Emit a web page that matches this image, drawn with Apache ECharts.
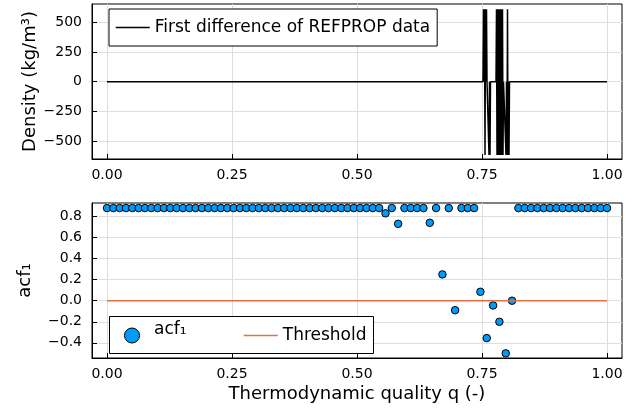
<!DOCTYPE html>
<html><head><meta charset="utf-8">
<script src="https://cdn.jsdelivr.net/npm/echarts@6/dist/echarts.min.js"></script>
<style>html,body{margin:0;padding:0;background:#fff}#c{width:632px;height:408px}</style>
</head><body><div id="c"></div>
<script>
// ---- data ----
const xTicks = [0, 0.25, 0.5, 0.75, 1];
const densTicks = [-500, -250, 0, 250, 500];
const acfTicks = [-0.4, -0.2, 0, 0.2, 0.4, 0.6, 0.8];

// first difference of REFPROP density (kg/m^3) vs quality
const diffQ = [0, 0.752, 0.753, 0.754, 0.755, 0.756, 0.757, 0.758, 0.759, 0.760,
  0.763, 0.764, 0.765, 0.766, 0.767,
  0.778, 0.779, 0.780, 0.781, 0.782, 0.783, 0.784, 0.785, 0.786, 0.787, 0.788, 0.789, 0.790, 0.791, 0.792, 0.793,
  0.797, 0.798, 0.799, 0.800, 0.801, 0.802, 0.803, 0.804, 0.805, 1];
const diffVal = [0, 0, 611, 0, 611, -619, 611, 0, 611, 0,
  0, -619, 0, -619, 0,
  0, 611, -619, 611, -619, 611, -619, 611, -619, 611, -619, 611, -619, 611, -619, 0,
  0, -619, 0, -619, 611, -619, 0, -619, 0, 0];

// lag-1 autocorrelation vs quality
const acfQ = [0, 0.0127, 0.0253, 0.038, 0.0506, 0.0633, 0.0759, 0.0886, 0.1013, 0.1139,
  0.1266, 0.1392, 0.1519, 0.1646, 0.1772, 0.1899, 0.2025, 0.2152, 0.2278, 0.2405,
  0.2532, 0.2658, 0.2785, 0.2911, 0.3038, 0.3165, 0.3291, 0.3418, 0.3544, 0.3671,
  0.3797, 0.3924, 0.4051, 0.4177, 0.4304, 0.443, 0.4557, 0.4684, 0.481, 0.4937,
  0.5063, 0.519, 0.5316, 0.5443, 0.557, 0.5696, 0.5823, 0.5949, 0.6076, 0.6203,
  0.6329, 0.6456, 0.6582, 0.6709, 0.6835, 0.6962, 0.7089, 0.7215, 0.7342, 0.7468,
  0.7595, 0.7722, 0.7848, 0.7975, 0.8101, 0.8228, 0.8354, 0.8481, 0.8608, 0.8734,
  0.8861, 0.8987, 0.9114, 0.9241, 0.9367, 0.9494, 0.962, 0.9747, 0.9873, 1.0];
const acfVal = [0.88, 0.88, 0.88, 0.88, 0.88, 0.88, 0.88, 0.88, 0.88, 0.88,
  0.88, 0.88, 0.88, 0.88, 0.88, 0.88, 0.88, 0.88, 0.88, 0.88,
  0.88, 0.88, 0.88, 0.88, 0.88, 0.88, 0.88, 0.88, 0.88, 0.88,
  0.88, 0.88, 0.88, 0.88, 0.88, 0.88, 0.88, 0.88, 0.88, 0.88,
  0.88, 0.88, 0.88, 0.88, 0.83, 0.88, 0.73, 0.88, 0.88, 0.88,
  0.88, 0.74, 0.88, 0.25, 0.88, -0.09, 0.88, 0.88, 0.88, 0.085,
  -0.355, -0.045, -0.20, -0.50, 0.0, 0.88, 0.88, 0.88, 0.88, 0.88,
  0.88, 0.88, 0.88, 0.88, 0.88, 0.88, 0.88, 0.88, 0.88, 0.88];

const thrQ = [0, 1];
const thrVal = [0, 0];

// ---- chart ----
const FONT = 'DejaVu Sans';
const BLUE = '#009AFA', ORANGE = '#E26F46';
const minus = s => String(s).replace('-', '\u2212');
const gridLine = {show: true, lineStyle: {color: '#dedede', width: 1}};

function xAxis(gi, withName) {
  return {
    type: 'value', gridIndex: gi, min: -0.03, max: 1.03,
    axisLine: {show: true, onZero: false, lineStyle: {color: '#000', width: 1}},
    axisTick: {show: true, inside: true, length: 5, customValues: xTicks, lineStyle: {color: '#000'}},
    axisLabel: {customValues: xTicks, formatter: v => v.toFixed(2), margin: 9,
      color: '#000', fontFamily: FONT, fontSize: 14},
    splitLine: gridLine,
    name: withName ? 'Thermodynamic quality q (-)' : '',
    nameLocation: 'middle', nameGap: 27, nameMoveOverlap: false,
    nameTextStyle: {color: '#000', fontFamily: FONT, fontSize: 18}
  };
}
function yAxis(gi, min, max, ticks, fmt, name, gap) {
  return {
    type: 'value', gridIndex: gi, min: min, max: max,
    axisLine: {show: true, onZero: false, lineStyle: {color: '#000', width: 1}},
    axisTick: {show: true, inside: true, length: 5, customValues: ticks, lineStyle: {color: '#000'}},
    axisLabel: {customValues: ticks, formatter: v => minus(fmt(v)), margin: 10,
      color: '#000', fontFamily: FONT, fontSize: 14},
    splitLine: gridLine,
    name: name, nameLocation: 'middle', nameRotate: 90, nameGap: gap, nameMoveOverlap: false,
    nameTextStyle: {color: '#000', fontFamily: FONT, fontSize: 18}
  };
}

const txt = {color: '#000', fontFamily: FONT, fontSize: 17};

const chart = echarts.init(document.getElementById('c'), null, {renderer: 'canvas'});
chart.setOption({
  animation: false,
  backgroundColor: '#fff',
  grid: [
    {left: 92, top: 4, width: 530, height: 155, show: true, borderColor: '#000', borderWidth: 1, backgroundColor: '#fff'},
    {left: 92, top: 203, width: 530, height: 155, show: true, borderColor: '#000', borderWidth: 1, backgroundColor: '#fff'}
  ],
  xAxis: [xAxis(0, false), xAxis(1, true)],
  yAxis: [
    yAxis(0, -653, 656, densTicks, v => String(Math.round(v)), 'Density (kg/m\u00B3)', 53),
    yAxis(1, -0.544, 0.928, acfTicks, v => v.toFixed(1), 'acf\u2081', 58)
  ],
  graphic: [{
    type: 'rect', z: 10, silent: true,
    shape: {x: 109.5, y: 316.5, width: 264, height: 37},
    style: {fill: '#fff', stroke: '#000', lineWidth: 1}
  }],
  legend: [
    {
      left: 109, top: 9, itemWidth: 34, itemHeight: 15, padding: [10, 7, 10, 6],
      borderColor: '#000', borderWidth: 1, backgroundColor: '#fff', selectedMode: false,
      textStyle: txt,
      data: [{name: 'First difference of REFPROP data', icon: 'line',
        itemStyle: {color: '#000', borderColor: '#000', borderWidth: 1.5}}]
    },
    // marker of the acf legend entry
    {
      left: 124, top: 327.5, itemWidth: 15, itemHeight: 15, padding: 0, z: 12,
      selectedMode: false, formatter: () => '',
      textStyle: txt,
      data: [{name: 'acf\u2081', icon: 'circle',
        itemStyle: {color: BLUE, borderColor: '#000', borderWidth: 1}}]
    },
    // label of the acf legend entry (raised, as in the original)
    {
      left: 148, top: 321, itemWidth: 0, itemHeight: 15, padding: 0, z: 12,
      selectedMode: false,
      textStyle: txt,
      data: [{name: 'acf\u2081', icon: 'rect', itemStyle: {opacity: 0}}]
    },
    {
      left: 243, top: 327, itemWidth: 34, itemHeight: 15, padding: 0, z: 12,
      selectedMode: false,
      textStyle: txt,
      data: [{name: 'Threshold', icon: 'line',
        itemStyle: {color: ORANGE, borderColor: ORANGE, borderWidth: 1.5}}]
    }
  ],
  series: [
    {
      type: 'line', name: 'First difference of REFPROP data', xAxisIndex: 0, yAxisIndex: 0,
      data: diffQ.map((q, i) => [q, diffVal[i]]),
      symbol: 'none', lineStyle: {color: '#000', width: 1.5}, itemStyle: {color: '#000'}
    },
    {
      type: 'line', name: 'Threshold', xAxisIndex: 1, yAxisIndex: 1,
      data: thrQ.map((q, i) => [q, thrVal[i]]),
      symbol: 'none', lineStyle: {color: ORANGE, width: 1.5}, itemStyle: {color: ORANGE}
    },
    {
      type: 'scatter', name: 'acf\u2081', xAxisIndex: 1, yAxisIndex: 1,
      data: acfQ.map((q, i) => [q, acfVal[i]]),
      symbol: 'circle', symbolSize: 7.5,
      itemStyle: {color: BLUE, borderColor: '#000', borderWidth: 1, opacity: 1}
    }
  ]
});
</script>
</body></html>
